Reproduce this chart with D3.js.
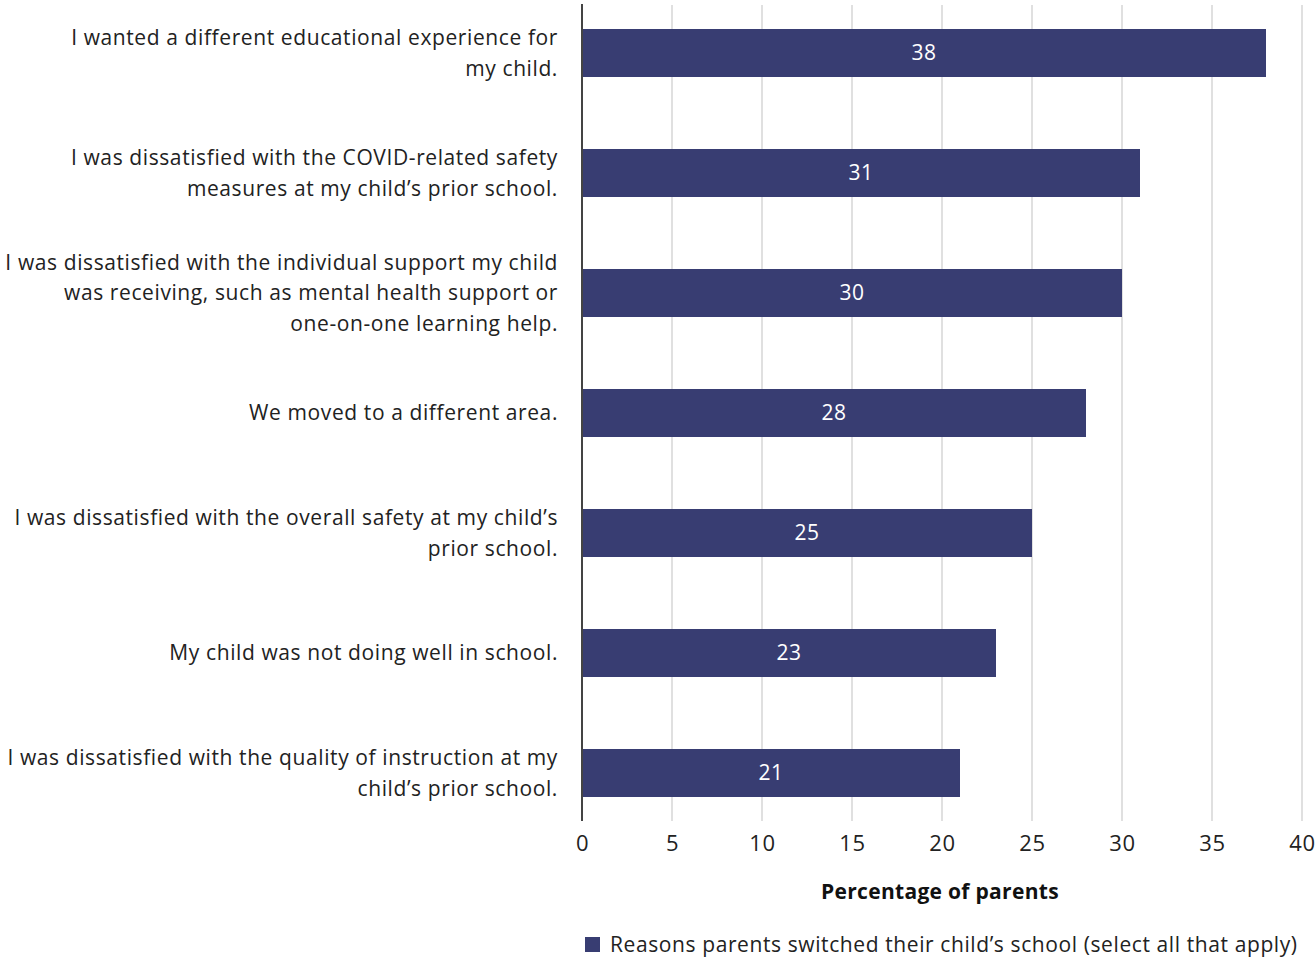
<!DOCTYPE html>
<html>
<head>
<meta charset="utf-8">
<script src="https://cdn.jsdelivr.net/npm/d3@7"></script>
<style>
  html, body { margin: 0; padding: 0; background: #fff; }
  svg text { font-family: "Open Sans", Lato, sans-serif; }
</style>
</head>
<body>
<svg id="chart" width="1315" height="958"></svg>
<script>
// Reasons parents gave for switching their child's school
const categories = [
  ["I wanted a different educational experience for", "my child."],
  ["I was dissatisfied with the COVID-related safety", "measures at my child\u2019s prior school."],
  ["I was dissatisfied with the individual support my child", "was receiving, such as mental health support or", "one-on-one learning help."],
  ["We moved to a different area."],
  ["I was dissatisfied with the overall safety at my child\u2019s", "prior school."],
  ["My child was not doing well in school."],
  ["I was dissatisfied with the quality of instruction at my", "child\u2019s prior school."]
];
const values = [38, 31, 30, 28, 25, 23, 21];
const xTicks = [0, 5, 10, 15, 20, 25, 30, 35, 40];
const xTitle = "Percentage of parents";
const seriesName = "Reasons parents switched their child\u2019s school (select all that apply)";

const barColor = "#383d72";
const textColor = "#222";
const spacing = "0.6px";
const svg = d3.select("#chart");

const plotLeft = 582, plotRight = 1302, plotTop = 5, plotBottom = 821;
const x = d3.scaleLinear().domain([0, 40]).range([plotLeft, plotRight]);
const y = d3.scaleBand()
  .domain(d3.range(categories.length))
  .range([plotTop, plotBottom])
  .paddingInner(0.6)
  .paddingOuter(0.2);

// vertical gridlines
svg.append("g")
  .selectAll("line")
  .data(xTicks.filter(t => t > 0))
  .join("line")
  .attr("x1", d => x(d)).attr("x2", d => x(d))
  .attr("y1", plotTop).attr("y2", plotBottom)
  .attr("stroke", "#e0e0e0")
  .attr("stroke-width", 2);

// bars
svg.append("g")
  .selectAll("rect")
  .data(values)
  .join("rect")
  .attr("x", x(0))
  .attr("y", (d, i) => y(i))
  .attr("width", d => x(d) - x(0))
  .attr("height", y.bandwidth())
  .attr("fill", barColor);

// value labels inside bars
svg.append("g")
  .selectAll("text")
  .data(values)
  .join("text")
  .attr("x", d => (x(0) + x(d)) / 2)
  .attr("y", (d, i) => y(i) + y.bandwidth() / 2)
  .attr("dy", "0.35em")
  .attr("text-anchor", "middle")
  .attr("fill", "#fff")
  .attr("font-size", 21)
  .style("letter-spacing", spacing)
  .text(d => d);

// y axis line
svg.append("line")
  .attr("x1", x(0)).attr("x2", x(0))
  .attr("y1", plotTop - 1).attr("y2", plotBottom)
  .attr("stroke", "#444")
  .attr("stroke-width", 2);

// category labels, wrapped
const lineH = 30.5;
const catG = svg.append("g");
categories.forEach((lines, i) => {
  const cy = y(i) + y.bandwidth() / 2;
  const startY = cy - (lines.length - 1) * lineH / 2;
  const t = catG.append("text")
    .attr("text-anchor", "end")
    .attr("font-size", 21)
    .style("letter-spacing", spacing)
    .attr("fill", textColor);
  lines.forEach((ln, j) => {
    t.append("tspan")
      .attr("x", 558)
      .attr("y", startY + j * lineH)
      .attr("dy", "0.35em")
      .text(ln);
  });
});

// x axis tick labels
const xAxis = d3.axisBottom(x).tickValues(xTicks).tickSize(0).tickPadding(0);
const xg = svg.append("g")
  .attr("transform", `translate(0, ${plotBottom})`)
  .call(xAxis);
xg.select(".domain").remove();
xg.selectAll("text")
  .attr("y", 22)
  .attr("dy", "0.35em")
  .attr("font-size", 22)
  .attr("fill", textColor)
  .style("letter-spacing", spacing)
  .style("font-family", "'Open Sans', Lato, sans-serif");

// x axis title
svg.append("text")
  .attr("x", (plotLeft + plotRight) / 2 - 2)
  .attr("y", 892)
  .attr("dy", "0.35em")
  .attr("text-anchor", "middle")
  .attr("font-size", 21)
  .attr("font-weight", "bold")
  .style("letter-spacing", "0.3px")
  .attr("fill", "#111")
  .text(xTitle);

// legend
const lg = svg.append("g").attr("transform", "translate(585, 937)");
lg.append("rect").attr("width", 15).attr("height", 15).attr("fill", barColor);
lg.append("text")
  .attr("x", 25).attr("y", 8)
  .attr("dy", "0.35em")
  .attr("font-size", 21)
  .style("letter-spacing", spacing)
  .attr("fill", textColor)
  .text(seriesName);
</script>
</body>
</html>
